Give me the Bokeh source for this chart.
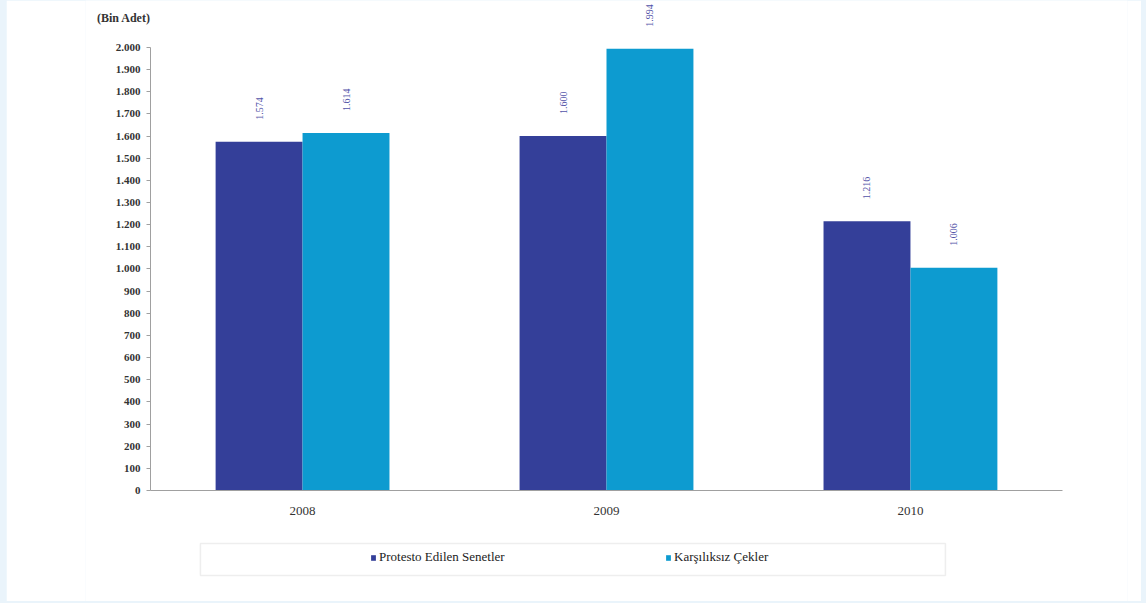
from bokeh.plotting import figure
from bokeh.models import (FactorRange, Range1d, FixedTicker, ColumnDataSource, Legend, LegendItem,
                          Label, BoxAnnotation)
from bokeh.transform import dodge
from bokeh.embed import file_html
from bokeh.resources import INLINE
from bokeh.core.properties import value
import math

years = ["2008", "2009", "2010"]
senetler = [1574, 1600, 1216]
cekler = [1614, 1994, 1006]
senetler_labels = ["1.574", "1.600", "1.216"]
cekler_labels = ["1.614", "1.994", "1.006"]
series_names = ["Protesto Edilen Senetler", "Karşılıksız Çekler"]
y_ticks = list(range(0, 2001, 100))
unit_label = "(Bin Adet)"

DARK = "#343f99"
LIGHT = "#0d9bd0"
SERIF = "Liberation Serif"


def fmt(v):
    return f"{v:,}".replace(",", ".")


src = ColumnDataSource(dict(year=years, sen=senetler, cek=cekler,
                            sen_lab=senetler_labels, cek_lab=cekler_labels))

p = figure(width=1135, height=601,
           x_range=FactorRange(*years, range_padding=0.1427),
           y_range=Range1d(-501, 2212), output_backend="svg", toolbar_location=None,
           min_border_left=79, min_border_right=14, min_border_top=0, min_border_bottom=0,
           background_fill_color="white", border_fill_color="white")
p.outline_line_color = None
p.grid.grid_line_color = None

w = 0.286
r1 = p.vbar(x=dodge("year", -w / 2, range=p.x_range), top="sen", width=w, source=src,
            fill_color=DARK, line_color=None)
r2 = p.vbar(x=dodge("year", w / 2, range=p.x_range), top="cek", width=w, source=src,
            fill_color=LIGHT, line_color=None)

for col, top, off in (("sen_lab", "sen", -w / 2), ("cek_lab", "cek", w / 2)):
    p.text(x=dodge("year", off, range=p.x_range), y=top, text=col, source=src,
           angle=math.pi / 2, text_align="left", text_baseline="middle",
           y_offset=-22, text_font=value(SERIF), text_font_size="10px",
           text_color="#5252a8")

# y axis, pinned at the left edge of the first category
ya = p.yaxis[0]
ya.fixed_location = 0
ya.ticker = FixedTicker(ticks=y_ticks)
ya.major_label_overrides = {t: fmt(t) for t in y_ticks}
ya.bounds = (0, 2000)
ya.minor_tick_line_color = None
ya.major_tick_out = 4
ya.major_tick_in = 0
ya.axis_line_color = "#a0a0a0"
ya.major_tick_line_color = "#a0a0a0"
ya.major_label_text_font = SERIF
ya.major_label_text_font_size = "11px"
ya.major_label_text_font_style = "bold"
ya.major_label_text_color = "#333333"
ya.major_label_standoff = 6

xa = p.xaxis[0]
xa.fixed_location = 0
xa.bounds = (0, 3)
xa.axis_line_color = "#a0a0a0"
xa.major_tick_line_color = None
xa.minor_tick_line_color = None
xa.major_label_text_font = SERIF
xa.major_label_text_font_size = "13px"
xa.major_label_text_color = "#333333"
xa.major_label_standoff = 10

p.add_layout(Label(x=0, y=2131, text=unit_label, text_align="right", text_baseline="middle",
                   text_font=SERIF, text_font_size="12px", text_font_style="bold",
                   text_color="#333333"))

# legend frame
p.add_layout(BoxAnnotation(left=0.164, right=2.615, top=-239, bottom=-384,
                           fill_color="white", fill_alpha=1.0, line_color="#c8c8c8",
                           line_width=1.5, level="underlay"))

legend = Legend(items=[LegendItem(label=series_names[0], renderers=[r1]),
                       LegendItem(label=series_names[1], renderers=[r2])],
                orientation="horizontal", location=(285, 36), padding=0, spacing=0,
                glyph_width=6, glyph_height=7, label_standoff=3, label_width=286,
                border_line_color=None, background_fill_alpha=0)
legend.label_text_font = SERIF
legend.label_text_font_size = "13px"
legend.label_text_color = "#222222"
p.add_layout(legend, "center")

html = file_html(p, INLINE)
html = html.replace("<body>", '<body style="background:#eaf4fb;margin:0;padding:0 0 0 6px">')
open("out.html", "w").write(html)
